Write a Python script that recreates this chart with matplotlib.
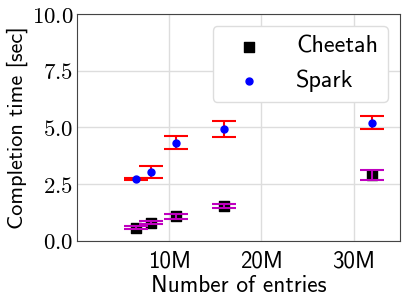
import matplotlib
matplotlib.use("Agg")
import matplotlib.pyplot as plt
from matplotlib.ticker import FuncFormatter

plt.rcParams['font.family'] = ['cmss10', 'DejaVu Sans']
plt.rcParams['mathtext.fontset'] = 'cm'
plt.rcParams['axes.unicode_minus'] = False

# Data (x in millions of entries, y in seconds)
entries = [6.4, 8.0, 10.7, 16.0, 32.0]
cheetah_time = [0.59, 0.81, 1.08, 1.53, 2.91]
cheetah_err_low = [0.07, 0.07, 0.10, 0.09, 0.22]
cheetah_err_high = [0.07, 0.07, 0.10, 0.09, 0.23]
spark_time = [2.73, 3.04, 4.33, 4.93, 5.21]
spark_err_low = [0.06, 0.26, 0.28, 0.34, 0.29]
spark_err_high = [0.06, 0.26, 0.28, 0.36, 0.31]
xtick_vals = [10, 20, 30]
xtick_labels = ['10M', '20M', '30M']
ytick_vals = [0.0, 2.5, 5.0, 7.5, 10.0]

fig = plt.figure(figsize=(4.07, 3.0), dpi=100)
ax = fig.add_axes([0.189, 0.197, 0.793, 0.756])

ax.scatter(entries, cheetah_time, marker='s', s=52, color='black', label='Cheetah', zorder=3)
ax.errorbar(entries, cheetah_time, yerr=[cheetah_err_low, cheetah_err_high], fmt='none',
            ecolor='m', capsize=8.6, capthick=1.5, elinewidth=1.5, zorder=4)
ax.scatter(entries, spark_time, marker='o', s=25, color='blue', label='Spark', zorder=3)
ax.errorbar(entries, spark_time, yerr=[spark_err_low, spark_err_high], fmt='none',
            ecolor='red', capsize=8.6, capthick=1.5, elinewidth=1.5, zorder=2)

ax.set_xlim(0, 35)
ax.set_ylim(0, 10)
ax.set_xticks(xtick_vals)
ax.set_xticklabels(xtick_labels)
ax.set_yticks(ytick_vals)
ax.yaxis.set_major_formatter(FuncFormatter(lambda v, p: r'$%.1f$' % v))
ax.tick_params(axis='x', labelsize=16.5, length=0, pad=7)
ax.tick_params(axis='y', labelsize=16.5, length=0, pad=2.5)
ax.grid(True, color='#dddddd', linewidth=1)
ax.set_axisbelow(True)
for s in ax.spines.values():
    s.set_color('#444444')
ax.set_xlabel('Number of entries', fontsize=16.8, labelpad=2)
ax.set_ylabel('Completion time [sec]', fontsize=16, labelpad=3)
ax.legend(loc='upper right', fontsize=17.4, handlelength=2.25, framealpha=1, edgecolor='#dddddd')

fig.savefig('out.png', dpi=100)
